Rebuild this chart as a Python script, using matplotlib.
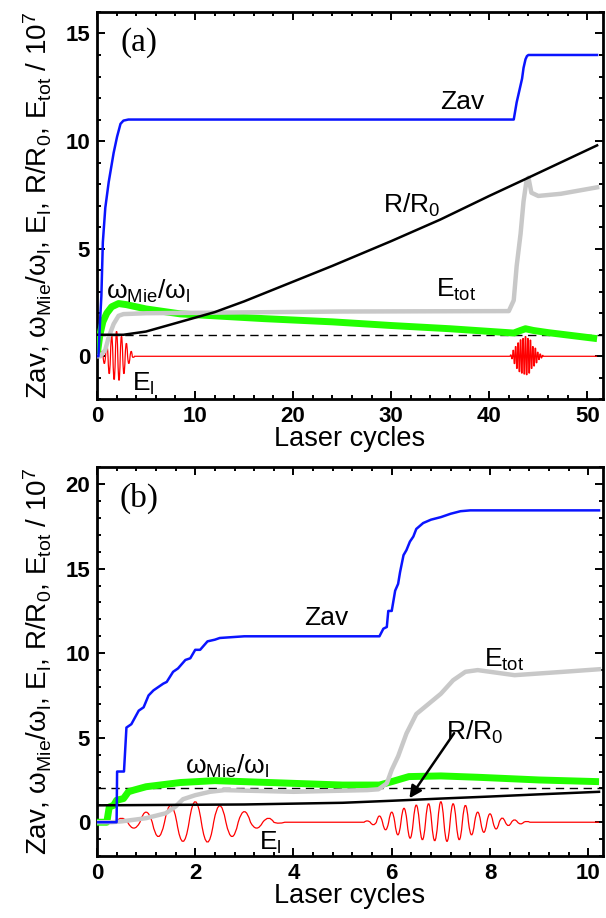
import numpy as np
import matplotlib
matplotlib.use("Agg")
import matplotlib.pyplot as plt
from matplotlib.path import Path
from matplotlib.patches import PathPatch
from matplotlib.ticker import MultipleLocator

plt.rcParams["font.family"] = ["Liberation Sans", "DejaVu Sans"]
plt.rcParams["mathtext.fontset"] = "custom"
plt.rcParams["mathtext.rm"] = "Liberation Sans"
plt.rcParams["mathtext.it"] = "Liberation Sans:italic"
plt.rcParams["mathtext.bf"] = "Liberation Sans:bold"

# ── Panel (a): long run ──────────────────────────────────────────────────────
A_ZAV_X = [0, 0.15, 0.3, 0.45, 0.6, 0.85, 1.2, 1.7, 2.05, 2.4, 2.7, 3.2,
           42.5, 42.8, 43.15, 43.35, 43.5, 43.7, 43.85, 44.0, 51.0]
A_ZAV_Y = [0, 0, 1.5, 2.8, 5.3, 6.9, 8.1, 9.45, 10.2, 10.8, 10.95, 11.0,
           11.0, 11.8, 12.5, 12.9, 13.4, 13.8, 13.95, 14.0, 14.0]

A_R_X = [0, 2.7, 5, 8.5, 12, 15, 18, 21, 24, 30, 35, 40, 44, 51]
A_R_Y = [1.0, 1.0, 1.15, 1.6, 2.05, 2.55, 3.1, 3.65, 4.2, 5.35, 6.35, 7.45, 8.3, 9.8]

A_MIE_X = [0, 0.15, 0.3, 0.6, 1.0, 1.5, 2.2, 3.0, 5.0, 8.5, 12, 17, 24, 30,
           36, 42.5, 43.2, 43.7, 44.5, 46, 51]
A_MIE_Y = [0, 0.5, 1.0, 1.6, 2.0, 2.3, 2.45, 2.4, 2.2, 1.97, 1.88, 1.75, 1.6,
           1.43, 1.28, 1.08, 1.2, 1.28, 1.2, 1.1, 0.82]

A_TOT_X = [0, 0.35, 0.85, 1.2, 1.7, 2.2, 2.7, 5, 25, 42, 42.5, 42.8, 43.2,
           43.5, 43.8, 44.0, 44.3, 45, 47.3, 51]
A_TOT_Y = [0, 0, 0.3, 0.9, 1.5, 1.88, 1.96, 2.0, 2.08, 2.1, 2.6, 4.2, 5.7,
           7.2, 8.15, 8.3, 7.6, 7.45, 7.55, 7.85]

# ── Panel (b): short run ─────────────────────────────────────────────────────
B_ZAV_X = [0, 0.4, 0.41, 0.55, 0.6, 0.7, 0.85, 0.95, 1.05, 1.15, 1.35, 1.42,
           1.55, 1.65, 1.8, 1.9, 2.0, 2.1, 2.25, 2.4, 2.5, 3.0, 5.75, 5.83,
           5.9, 5.93, 6.0, 6.07, 6.13, 6.17, 6.24, 6.3, 6.37, 6.44, 6.5, 6.64,
           6.8, 7.0, 7.2, 7.4, 7.6, 10.22]
B_ZAV_Y = [0, 0, 3.0, 3.0, 5.6, 5.8, 6.6, 6.8, 7.5, 7.8, 8.2, 8.3, 8.9, 9.1,
           9.6, 9.7, 10.2, 10.2, 10.7, 10.8, 10.9, 11.0, 11.0, 11.45, 11.55,
           12.5, 12.5, 13.7, 14.1, 14.8, 15.8, 16.1, 16.6, 16.9, 17.35, 17.7,
           17.9, 18.05, 18.25, 18.4, 18.45, 18.45]

B_R_X = [0, 3, 5, 6, 7, 8, 9, 10.22]
B_R_Y = [1.0, 1.05, 1.15, 1.27, 1.4, 1.52, 1.65, 1.8]

B_MIE_X = [0, 0.2, 0.25, 0.34, 0.4, 0.54, 0.64, 0.75, 1.0, 1.7, 2.4, 3.0, 5.0,
           5.75, 6.0, 6.35, 7.0, 7.75, 9.0, 10.22]
B_MIE_Y = [0, 0, 0.9, 1.0, 1.3, 1.4, 1.8, 1.9, 2.1, 2.35, 2.46, 2.4, 2.2, 2.2,
           2.4, 2.7, 2.74, 2.66, 2.5, 2.4]

B_TOT_X = [0, 0.3, 0.5, 1.0, 1.4, 1.6, 1.75, 2.0, 2.3, 2.6, 3.0, 4.0, 5.5,
           5.73, 5.9, 6.0, 6.13, 6.3, 6.5, 6.75, 7.0, 7.25, 7.5, 7.75, 8.0,
           8.25, 8.5, 9.0, 9.5, 10.22]
B_TOT_Y = [0, 0, 0.05, 0.24, 0.53, 0.93, 1.36, 1.6, 1.8, 1.9, 1.87, 1.8, 1.9,
           1.95, 2.3, 3.1, 3.9, 5.25, 6.4, 7.0, 7.6, 8.4, 8.9, 9.0, 8.9, 8.8,
           8.7, 8.8, 8.9, 9.05]

# laser field E_l: extrema of the two pulses (time, value)
PULSE1_T = [0.5, 0.75, 1.0, 1.25, 1.5, 1.75, 2.0, 2.25, 2.5, 2.75, 3.0, 3.25,
            3.5, 3.7]
PULSE1_V = [0.24, -0.35, 0.6, -0.85, 1.0, -1.14, 1.22, -1.18, 0.98, -0.85,
            0.63, -0.35, 0.24, -0.06]
PULSE2_T = [5.5, 5.625, 5.75, 5.875, 6.0, 6.125, 6.25, 6.375, 6.5, 6.625,
            6.75, 6.875, 7.0, 7.125, 7.25, 7.375, 7.5, 7.625, 7.75, 7.875,
            8.0, 8.125, 8.25, 8.375, 8.5, 8.625, 8.75]
PULSE2_V = [0.08, -0.15, 0.37, -0.45, 0.6, -0.75, 0.83, -0.95, 1.02, -1.04,
            1.1, -1.1, 1.22, -1.14, 1.1, -1.04, 1.0, -0.75, 0.6, -0.6, 0.5,
            -0.4, 0.25, -0.2, 0.14, -0.1, 0.05]
PULSE2_SHIFT_A = 36.7   # second pulse arrives later in run (a)

BLUE, GREEN, GRAY, RED = "#0a14ff", "#22ff00", "#c8c8c8", "#ff0000"


def field_patch(pulses, x_end):
    """smooth oscillation through the extrema, zero line elsewhere"""
    verts, codes = [(0, 0)], [Path.MOVETO]
    for t, v in pulses:
        t = np.asarray(t, float)
        half = np.diff(t).mean() / 2
        verts.append((t[0] - half, 0)); codes.append(Path.LINETO)
        for i, (ti, vi) in enumerate(zip(t, v)):
            nxt = (t[i + 1] + ti) / 2 if i + 1 < len(t) else ti + half
            verts += [(ti, 2 * vi), (nxt, 0)]
            codes += [Path.CURVE3, Path.CURVE3]
    verts.append((x_end, 0)); codes.append(Path.LINETO)
    return PathPatch(Path(verts, codes), fill=False, edgecolor=RED, lw=0.9, zorder=2)


def style(ax, xlim, ylim, xmaj, xmin, ymaj):
    ax.set_xlim(*xlim)
    ax.set_ylim(*ylim)
    ax.xaxis.set_major_locator(MultipleLocator(xmaj))
    ax.xaxis.set_minor_locator(MultipleLocator(xmin))
    ax.yaxis.set_major_locator(MultipleLocator(ymaj))
    ax.yaxis.set_minor_locator(MultipleLocator(1))
    ax.tick_params(which="both", direction="in", top=True, right=True, width=1.4)
    ax.tick_params(which="major", length=6, labelsize=16, pad=5)
    ax.tick_params(which="minor", length=3)
    for lab in ax.get_xticklabels() + ax.get_yticklabels():
        lab.set_fontweight("bold")
    for s in ax.spines.values():
        s.set_linewidth(2.0)
    ax.set_xlabel("Laser cycles", fontsize=19.5, labelpad=-1)
    ax.set_ylabel(r"Zav, ω$_{\rm Mie}$/ω$_{\rm l}$, E$_{\rm l}$, R/R$_{\rm 0}$, "
                  r"E$_{\rm tot}$ / 10$^{7}$", fontsize=20, labelpad=8)


def draw(ax, d, pulses, dash_y, x_end):
    ax.axhline(dash_y, color="black", lw=1.0, ls=(0, (6, 4)), zorder=1)
    ax.add_patch(field_patch(pulses, x_end))
    ax.plot(d["mie"][0], d["mie"][1], color=GREEN, lw=5, zorder=3, solid_capstyle="butt")
    ax.plot(d["tot"][0], d["tot"][1], color=GRAY, lw=3.2, zorder=4)
    ax.plot(d["r"][0], d["r"][1], color="black", lw=1.8, zorder=5)
    ax.plot(d["zav"][0], d["zav"][1], color=BLUE, lw=1.8, zorder=6)


fig = plt.figure(figsize=(6.06, 9.18), dpi=100)
ax1 = fig.add_axes([0.160, 0.565, 0.835, 0.422])
ax2 = fig.add_axes([0.160, 0.0675, 0.835, 0.4235])

# (a)
draw(ax1, {"zav": (A_ZAV_X, A_ZAV_Y), "r": (A_R_X, A_R_Y),
           "mie": (A_MIE_X, A_MIE_Y), "tot": (A_TOT_X, A_TOT_Y)},
     [(PULSE1_T, PULSE1_V), (np.array(PULSE2_T) + PULSE2_SHIFT_A, PULSE2_V)],
     1.0, 51.0)
style(ax1, (0, 51.6), (-2, 16), 10, 2, 5)
ax1.text(0.083, 0.92, "(a)", transform=ax1.transAxes, fontsize=24,
         family="Liberation Serif", ha="center", va="center")
ax1.text(37.3, 11.8, "Zav", fontsize=19, ha="center", va="center")
ax1.text(32.1, 7.0, r"R/R$_{\rm 0}$", fontsize=19, ha="center", va="center")
ax1.text(36.6, 3.1, r"E$_{\rm tot}$", fontsize=19, ha="center", va="center")
ax1.text(5.2, 3.0, r"ω$_{\rm Mie}$/ω$_{\rm l}$", fontsize=19, ha="center", va="center")
ax1.text(4.7, -1.3, r"E$_{\rm l}$", fontsize=19, ha="center", va="center")

# (b)
draw(ax2, {"zav": (B_ZAV_X, B_ZAV_Y), "r": (B_R_X, B_R_Y),
           "mie": (B_MIE_X, B_MIE_Y), "tot": (B_TOT_X, B_TOT_Y)},
     [(PULSE1_T, PULSE1_V), (PULSE2_T, PULSE2_V)], 2.0, 10.22)
style(ax2, (0, 10.3), (-2, 21), 2, 0.4, 5)
ax2.text(0.083, 0.92, "(b)", transform=ax2.transAxes, fontsize=24,
         family="Liberation Serif", ha="center", va="center")
ax2.text(4.67, 12.07, "Zav", fontsize=19, ha="center", va="center")
ax2.text(8.28, 9.6, r"E$_{\rm tot}$", fontsize=19, ha="center", va="center")
ax2.text(7.68, 5.3, r"R/R$_{\rm 0}$", fontsize=19, ha="center", va="center")
ax2.text(2.66, 3.3, r"ω$_{\rm Mie}$/ω$_{\rm l}$", fontsize=19, ha="center", va="center")
ax2.text(3.53, -1.2, r"E$_{\rm l}$", fontsize=19, ha="center", va="center")
ax2.annotate("", xy=(6.36, 1.42), xytext=(7.27, 5.27),
             arrowprops=dict(arrowstyle="-|>", color="black", lw=1.8,
                             mutation_scale=18, shrinkA=0, shrinkB=0), zorder=7)

fig.savefig("out.png", dpi=100)
